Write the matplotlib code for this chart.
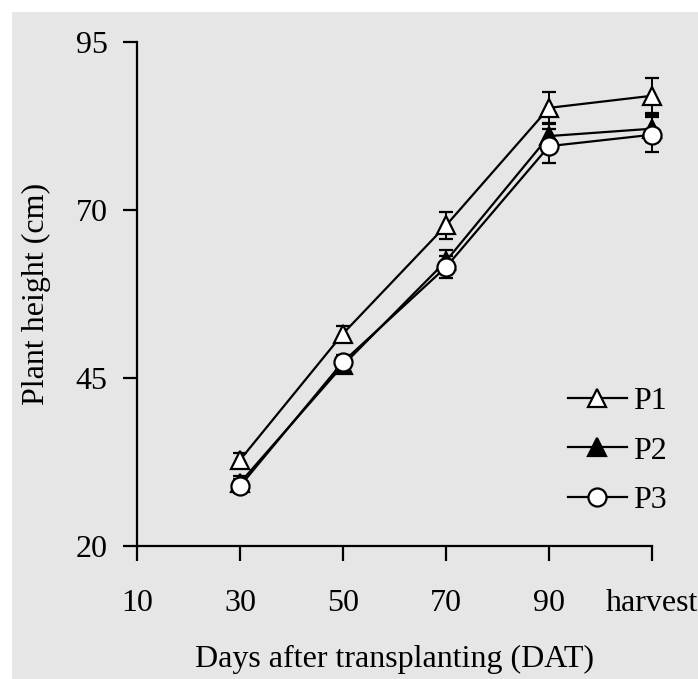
import matplotlib
matplotlib.use("Agg")
from matplotlib import pyplot as plt
from matplotlib.patches import Rectangle

# sampling days (harvest placed at 110)
days = [30, 50, 70, 90, 110]
tick_pos = [10, 30, 50, 70, 90, 110]
tick_labels = ["10", "30", "50", "70", "90", "harvest"]

p1 = [32.8, 51.6, 67.7, 85.2, 87.0]
p2 = [29.4, 46.9, 62.4, 81.0, 82.1]
p3 = [28.9, 47.4, 61.5, 79.5, 81.2]
p1_err = [1.0, 1.2, 2.0, 2.3, 2.6]
p2_err = [1.0, 1.0, 1.6, 1.8, 2.0]
p3_err = [1.0, 1.0, 1.6, 2.5, 2.6]

plt.rcParams["font.family"] = ["Liberation Serif", "DejaVu Serif"]
plt.rcParams["font.size"] = 23

fig = plt.figure(figsize=(6.98, 6.79), dpi=100, facecolor="white")
fig.patches.append(Rectangle((12 / 698, 0), 1, 1 - 12 / 679, transform=fig.transFigure,
                             facecolor="#e6e6e6", edgecolor="none", zorder=-10))
axes = fig.add_axes([137 / 698, 1 - 546 / 679, (652 - 137) / 698, (546 - 42) / 679])
axes.set_facecolor("none")

style = dict(color="black", lw=1.6, ms=13, mew=1.6, capsize=5, elinewidth=1.4, capthick=1.6, clip_on=False)
axes.errorbar(days, p1, yerr=p1_err, marker="^", mfc="white", mec="black", label="P1", zorder=3, **style)
axes.errorbar(days, p2, yerr=p2_err, marker="^", mfc="black", mec="black", label="P2", zorder=4, **style)
axes.errorbar(days, p3, yerr=p3_err, marker="o", mfc="white", mec="black", label="P3", zorder=5, **style)

axes.set_xlim(10, 110)
axes.set_ylim(20, 95)
axes.set_xticks(tick_pos)
axes.set_xticklabels(tick_labels)
axes.set_yticks([20, 45, 70, 95])
for s in ["top", "right"]:
    axes.spines[s].set_visible(False)
for s in ["left", "bottom"]:
    axes.spines[s].set_linewidth(1.6)
axes.tick_params(axis="x", length=11, width=1.6, pad=20, colors="black")
axes.tick_params(axis="y", length=10, width=1.6, pad=11, colors="black")
axes.set_xlabel("Days after transplanting (DAT)", labelpad=19)
axes.set_ylabel("Plant height (cm)", labelpad=18)

handles, labels = axes.get_legend_handles_labels()
handles = [h[0] for h in handles]
axes.legend(handles, labels, frameon=False, loc="upper left", bbox_to_anchor=(0.805, 0.347),
            handlelength=1.85, handletextpad=0.2, labelspacing=0.62, borderpad=0)

plt.savefig("out.png", dpi=100, facecolor=fig.get_facecolor())
